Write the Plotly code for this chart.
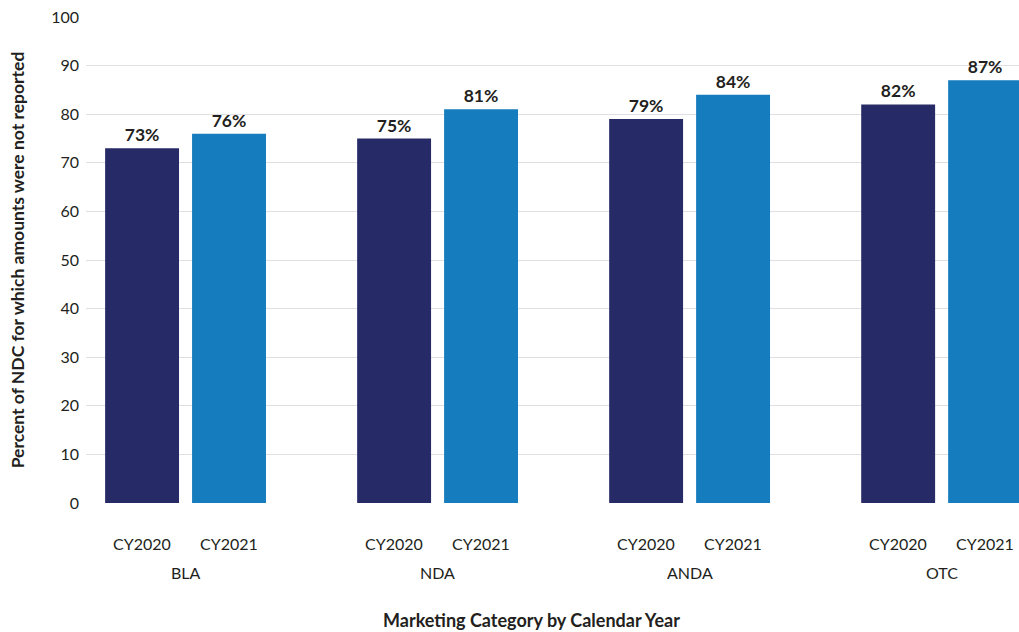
import plotly.graph_objects as go

categories = ["BLA", "NDA", "ANDA", "OTC"]
years = ["CY2020", "CY2021"]
cy2020 = [73, 75, 79, 82]
cy2021 = [76, 81, 84, 87]
colors = {"CY2020": "#262A67", "CY2021": "#157CBE"}
series = {"CY2020": cy2020, "CY2021": cy2021}

FONT = "Lato"
TXT = "#231F20"

fig = go.Figure()
for yr in years:
    fig.add_trace(go.Bar(
        x=categories, y=series[yr], name=yr,
        marker=dict(color=colors[yr], line=dict(width=0)),
        texttemplate="%{y}%", textposition="outside",
        textfont=dict(family=FONT, size=17.5, color=TXT, weight="bold"),
        cliponaxis=False,
    ))

annotations = []
for c in categories:
    for yr, shift in zip(years, [-43.5, 43.5]):
        annotations.append(dict(
            x=c, xref="x", xshift=shift, y=0, yref="paper", yshift=-40,
            text=yr, showarrow=False, yanchor="middle",
            font=dict(family=FONT, size=16, color=TXT)))
    annotations.append(dict(
        x=c, xref="x", y=0, yref="paper", yshift=-69,
        text=c, showarrow=False, yanchor="middle",
        font=dict(family=FONT, size=16, color=TXT)))

annotations.append(dict(
    x=0.478, xref="paper", y=0, yref="paper", yshift=-117,
    text="<b>Marketing Category by Calendar Year</b>", showarrow=False,
    xanchor="center", yanchor="middle",
    font=dict(family=FONT, size=18, color=TXT)))

fig.update_layout(
    width=1019, height=632,
    margin=dict(l=86, r=0, t=17, b=129),
    paper_bgcolor="white", plot_bgcolor="white",
    barmode="group", bargap=0.31, bargroupgap=0.15,
    showlegend=False,
    annotations=annotations,
    xaxis=dict(
        type="category", range=[-0.395, 3.307], showticklabels=False,
        showgrid=False, zeroline=False, showline=False, ticks="",
    ),
    yaxis=dict(
        range=[0, 100], dtick=10, showgrid=True, gridcolor="#E0E0E4", gridwidth=1,
        zeroline=False, showline=False, ticks="", ticklabelstandoff=6,
        tickfont=dict(family=FONT, size=16, color=TXT),
        title=dict(text="<b>Percent of NDC for which amounts were not reported</b>",
                   standoff=22, font=dict(family=FONT, size=17.5, color=TXT)),
    ),
)

fig.write_html("out.html")
